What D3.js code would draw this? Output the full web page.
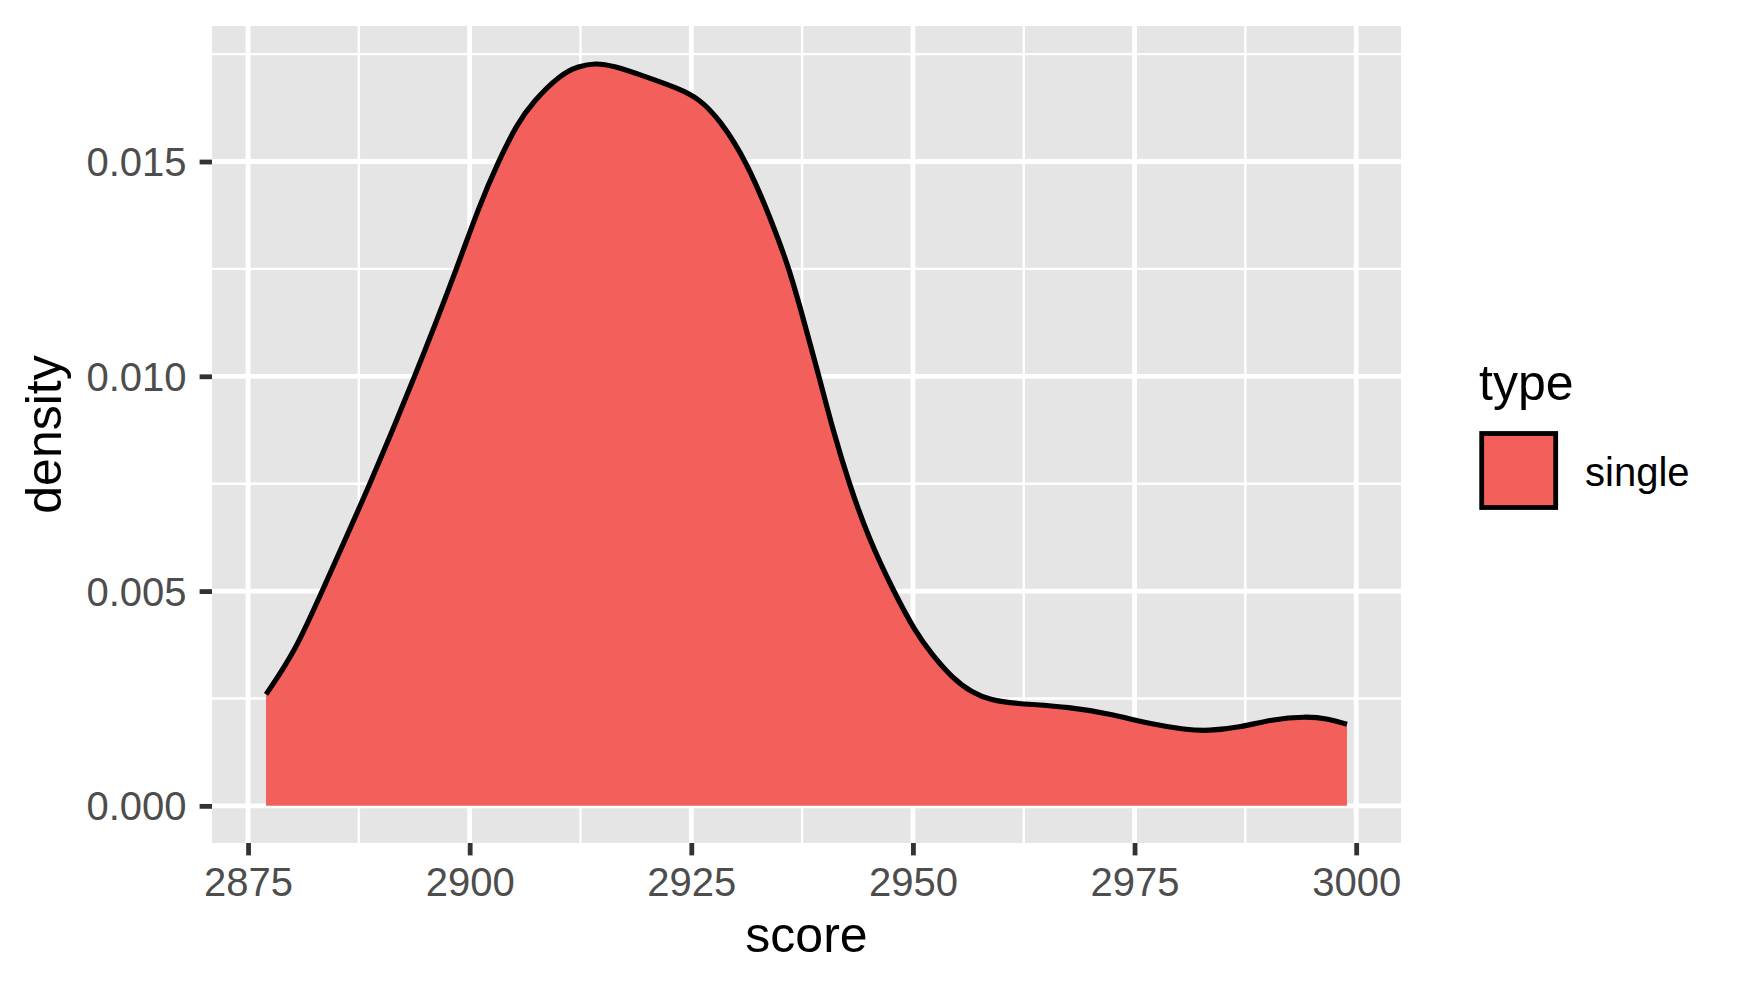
<!DOCTYPE html>
<html>
<head>
<meta charset="utf-8">
<script src="https://cdn.jsdelivr.net/npm/d3@7"></script>
<style>
html,body{margin:0;padding:0;background:#fff;}
svg{display:block;}
text{font-family:"Liberation Sans",Arial,Helvetica,sans-serif;}
</style>
</head>
<body>
<svg id="chart" width="1743" height="990"></svg>
<script>
// ---- data ----
const scoreX = [2877.03, 2880.34, 2883.35, 2888.8, 2893.84, 2898.54, 2900.98, 2903.23, 2905.3, 2907.18,
  2910.2, 2912.3, 2914.17, 2916.06, 2919.8, 2923.58, 2925.83, 2928.2, 2931.25, 2934.07,
  2936.06, 2937.7, 2939.4, 2941.0, 2942.8, 2944.97, 2947.8, 2950.3, 2952.15, 2954.4,
  2956.66, 2958.9, 2961.17, 2967.94, 2972.45, 2976.96, 2980.7, 2983.36, 2986.74, 2990.5,
  2994.25, 2996.9, 2998.96];
const densityY = [0.002595, 0.003605, 0.0050, 0.0075, 0.0100, 0.0125, 0.01392, 0.0150, 0.01586, 0.0164,
  0.01702, 0.01722, 0.01729, 0.01724, 0.01698, 0.0167, 0.01647, 0.01598, 0.0150, 0.01361,
  0.0125, 0.01129, 0.0100, 0.00873, 0.0075, 0.006247, 0.0050, 0.00404, 0.003526, 0.002984,
  0.002635, 0.002456, 0.002386, 0.002302, 0.00213, 0.001898, 0.001774, 0.001744, 0.001821, 0.002014,
  0.002084, 0.00203, 0.001898];
const xTicks = [2875, 2900, 2925, 2950, 2975, 3000];
const xMinor = [2887.5, 2912.5, 2937.5, 2962.5, 2987.5];
const yTicks = [0, 0.005, 0.010, 0.015];
const yMinor = [0.0025, 0.0075, 0.0125, 0.0175];
const seriesName = "single";
const legendTitle = "type";
const xTitle = "score";
const yTitle = "density";

// ---- layout ----
const panel = {left: 212, right: 1401, top: 26, bottom: 843};
const fillColor = "#F3605B";
const panelBg = "#E5E5E5";

const data = scoreX.map((x, i) => ({x, y: densityY[i]}));
const xExt = d3.extent(scoreX), yMax = d3.max(densityY);
const xPad = (xExt[1] - xExt[0]) * 0.05, yPad = yMax * 0.05;

const x = d3.scaleLinear().domain([xExt[0] - xPad, xExt[1] + xPad]).range([panel.left, panel.right]);
const y = d3.scaleLinear().domain([0 - yPad, yMax + yPad]).range([panel.bottom, panel.top]);

const svg = d3.select("#chart");

// panel background
svg.append("rect").attr("x", panel.left).attr("y", panel.top)
  .attr("width", panel.right - panel.left).attr("height", panel.bottom - panel.top)
  .attr("fill", panelBg);

const grid = svg.append("g");
// minor grid
grid.selectAll("line.xm").data(xMinor).join("line")
  .attr("x1", d => x(d)).attr("x2", d => x(d)).attr("y1", panel.top).attr("y2", panel.bottom)
  .attr("stroke", "#fff").attr("stroke-width", 2.4);
grid.selectAll("line.ym").data(yMinor).join("line")
  .attr("y1", d => y(d)).attr("y2", d => y(d)).attr("x1", panel.left).attr("x2", panel.right)
  .attr("stroke", "#fff").attr("stroke-width", 2.4);
// major grid
grid.selectAll("line.xM").data(xTicks).join("line")
  .attr("x1", d => x(d)).attr("x2", d => x(d)).attr("y1", panel.top).attr("y2", panel.bottom)
  .attr("stroke", "#fff").attr("stroke-width", 4.8);
grid.selectAll("line.yM").data(yTicks).join("line")
  .attr("y1", d => y(d)).attr("y2", d => y(d)).attr("x1", panel.left).attr("x2", panel.right)
  .attr("stroke", "#fff").attr("stroke-width", 4.8);

// density area + upper outline
const curve = d3.curveBasis;
svg.append("path").datum(data)
  .attr("d", d3.area().x(d => x(d.x)).y0(y(0)).y1(d => y(d.y)).curve(curve))
  .attr("fill", fillColor);
svg.append("path").datum(data)
  .attr("d", d3.line().x(d => x(d.x)).y(d => y(d.y)).curve(curve))
  .attr("fill", "none").attr("stroke", "#000").attr("stroke-width", 5.2)
  .attr("stroke-linejoin", "round");

// axes
const xAxis = d3.axisBottom(x).tickValues(xTicks).tickSize(12.4).tickPadding(10).tickFormat(d3.format("d"));
const gx = svg.append("g").attr("transform", `translate(0,${panel.bottom})`).call(xAxis);
gx.select(".domain").remove();
gx.selectAll(".tick line").attr("stroke", "#333").attr("stroke-width", 4.8);
gx.selectAll(".tick text").attr("fill", "#4D4D4D").style("font-size", "40px")
  .attr("dy", null).attr("y", 53);

const yAxis = d3.axisLeft(y).tickValues(yTicks).tickSize(12.4).tickPadding(13).tickFormat(d3.format(".3f"));
const gy = svg.append("g").attr("transform", `translate(${panel.left},0)`).call(yAxis);
gy.select(".domain").remove();
gy.selectAll(".tick line").attr("stroke", "#333").attr("stroke-width", 4.8);
gy.selectAll(".tick text").attr("fill", "#4D4D4D").style("font-size", "40px").attr("dy", "0.35em");

// axis titles
svg.append("text").attr("x", (panel.left + panel.right) / 2).attr("y", 952)
  .attr("text-anchor", "middle").style("font-size", "50px").attr("fill", "#000").text(xTitle);
svg.append("text").attr("transform", `translate(61,${(panel.top + panel.bottom) / 2}) rotate(-90)`)
  .attr("text-anchor", "middle").style("font-size", "50px").attr("fill", "#000").text(yTitle);

// legend
svg.append("text").attr("x", 1479).attr("y", 400).style("font-size", "50px").attr("fill", "#000").text(legendTitle);
svg.append("rect").attr("x", 1481.7).attr("y", 433.5).attr("width", 74).attr("height", 74)
  .attr("fill", fillColor).attr("stroke", "#000").attr("stroke-width", 4.8);
svg.append("text").attr("x", 1585).attr("y", 486).style("font-size", "40px").attr("fill", "#000").text(seriesName);
</script>
</body>
</html>
